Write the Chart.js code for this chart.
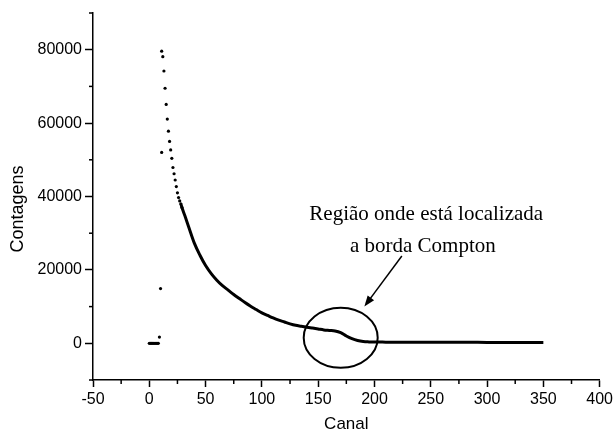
<!DOCTYPE html>
<html>
<head>
<meta charset="utf-8">
<script src="https://cdn.jsdelivr.net/npm/chart.js@4.4.0/dist/chart.umd.min.js"></script>
<style>
  html, body { margin: 0; padding: 0; background: #fff; }
</style>
</head>
<body>
<canvas id="chart" width="616" height="436"></canvas>
<script>
// Data
const dotChannels = [0, 1, 2, 3, 4, 5, 6, 7, 8, 9, 10, 11, 11, 12, 13, 14, 15, 16, 17, 18, 19, 20, 21, 22, 23, 24, 25, 26, 27, 28, 29];
const dotCounts = [0, 0, 0, 0, 0, 0, 0, 0, 0, 1700, 14900, 52000, 79600, 78100, 74200, 69500, 65100, 61100, 57800, 55000, 52700, 50400, 47900, 46200, 44500, 42700, 41000, 39700, 38800, 38000, 37000];

const curveChannels = [28, 30, 32, 35, 40, 45, 50, 55, 60, 65, 70, 75, 80, 85, 90, 95, 100, 105, 110, 115, 120, 125, 130, 135, 140, 145, 150, 155, 160, 165, 170, 175, 180, 185, 190, 195, 200, 210, 225, 250, 275, 300, 325, 350];
const curveCounts = [38000, 36100, 34400, 31700, 27300, 24000, 21200, 19000, 17200, 15700, 14500, 13300, 12200, 11100, 10100, 9200, 8300, 7600, 6900, 6300, 5800, 5300, 4900, 4650, 4400, 4150, 3900, 3650, 3500, 3350, 2900, 2000, 1250, 750, 480, 380, 340, 320, 300, 280, 260, 250, 240, 230];

const xTicks = [-50, 0, 50, 100, 150, 200, 250, 300, 350, 400];
const xMinor = [-25, 25, 75, 125, 175, 225, 275, 325, 375];
const yTicks = [0, 20000, 40000, 60000, 80000];
const yMinor = [-10000, 10000, 30000, 50000, 70000, 90000];

const noteLines = ['Região onde está localizada', 'a borda Compton'];

const toPoints = (xs, ys) => xs.map((c, i) => ({ x: c, y: ys[i] }));

// Annotation: ellipse, arrow, text, plus minor ticks
const extras = {
    id: 'extras',
    afterDraw(chart) {
        const { ctx, chartArea, scales: { x, y } } = chart;
        ctx.save();
        ctx.strokeStyle = '#000';
        ctx.fillStyle = '#000';
        ctx.lineWidth = 1.5;

        // minor ticks
        xMinor.forEach(v => {
            const px = x.getPixelForValue(v);
            ctx.beginPath();
            ctx.moveTo(px, chartArea.bottom);
            ctx.lineTo(px, chartArea.bottom + 4);
            ctx.stroke();
        });
        yMinor.forEach(v => {
            const py = y.getPixelForValue(v);
            ctx.beginPath();
            ctx.moveTo(chartArea.left, py);
            ctx.lineTo(chartArea.left - 4, py);
            ctx.stroke();
        });

        // ellipse round the Compton edge
        ctx.lineWidth = 2;
        ctx.beginPath();
        ctx.ellipse(x.getPixelForValue(170), y.getPixelForValue(1500), 37, 30, 0, 0, Math.PI * 2);
        ctx.stroke();

        // arrow
        const x1 = x.getPixelForValue(224.3), y1 = y.getPixelForValue(23800);
        const x2 = x.getPixelForValue(191), y2 = y.getPixelForValue(10000);
        const ang = Math.atan2(y2 - y1, x2 - x1);
        ctx.lineWidth = 1.5;
        ctx.beginPath();
        ctx.moveTo(x1, y1);
        ctx.lineTo(x2 - 8 * Math.cos(ang), y2 - 8 * Math.sin(ang));
        ctx.stroke();
        ctx.beginPath();
        ctx.moveTo(x2, y2);
        ctx.lineTo(x2 - 11 * Math.cos(ang) + 4 * Math.sin(ang), y2 - 11 * Math.sin(ang) - 4 * Math.cos(ang));
        ctx.lineTo(x2 - 11 * Math.cos(ang) - 4 * Math.sin(ang), y2 - 11 * Math.sin(ang) + 4 * Math.cos(ang));
        ctx.closePath();
        ctx.fill();

        // note text
        ctx.font = '21px "Liberation Serif", "Times New Roman", serif';
        ctx.textAlign = 'center';
        ctx.textBaseline = 'alphabetic';
        ctx.fillText(noteLines[0], x.getPixelForValue(246), y.getPixelForValue(33500));
        ctx.fillText(noteLines[1], x.getPixelForValue(243), y.getPixelForValue(24800));
        ctx.restore();
    }
};

const tickFont = { family: '"Liberation Sans", Arial, sans-serif', size: 16 };

new Chart(document.getElementById('chart'), {
    type: 'scatter',
    data: {
        datasets: [
            {
                data: toPoints(dotChannels, dotCounts),
                backgroundColor: '#000',
                borderColor: '#000',
                pointRadius: 1.6,
                pointBorderWidth: 0
            },
            {
                data: toPoints(curveChannels, curveCounts),
                showLine: true,
                borderColor: '#000',
                backgroundColor: '#000',
                borderWidth: 3,
                cubicInterpolationMode: 'monotone',
                pointRadius: 0
            }
        ]
    },
    options: {
        responsive: false,
        animation: false,
        layout: { padding: { top: 13, right: 13, left: 0, bottom: 0 } },
        plugins: { legend: { display: false }, tooltip: { enabled: false } },
        scales: {
            x: {
                type: 'linear',
                min: -50,
                max: 400,
                afterBuildTicks: axis => { axis.ticks = xTicks.map(value => ({ value })); },
                afterFit: scale => { scale.height = 56; },
                ticks: { color: '#000', font: tickFont, padding: 3, maxRotation: 0, callback: v => String(v) },
                grid: { drawOnChartArea: false, tickLength: 7, tickColor: '#000', tickWidth: 1.5 },
                border: { color: '#000', width: 1.5 },
                title: {
                    display: true,
                    text: 'Canal',
                    color: '#000',
                    font: { family: '"Liberation Sans", Arial, sans-serif', size: 17 },
                    padding: { top: 0, bottom: 1 }
                }
            },
            y: {
                min: -10000,
                max: 90000,
                afterBuildTicks: axis => { axis.ticks = yTicks.map(value => ({ value })); },
                afterFit: scale => { scale.width = 93; },
                ticks: { color: '#000', font: tickFont, padding: 3, callback: v => String(v) },
                grid: { drawOnChartArea: false, tickLength: 8, tickColor: '#000', tickWidth: 1.5 },
                border: { color: '#000', width: 1.5 },
                title: {
                    display: true,
                    text: 'Contagens     ',
                    color: '#000',
                    font: { family: '"Liberation Sans", Arial, sans-serif', size: 18 },
                    padding: { top: 7, bottom: 0 }
                }
            }
        }
    },
    plugins: [extras]
});
</script>
</body>
</html>
